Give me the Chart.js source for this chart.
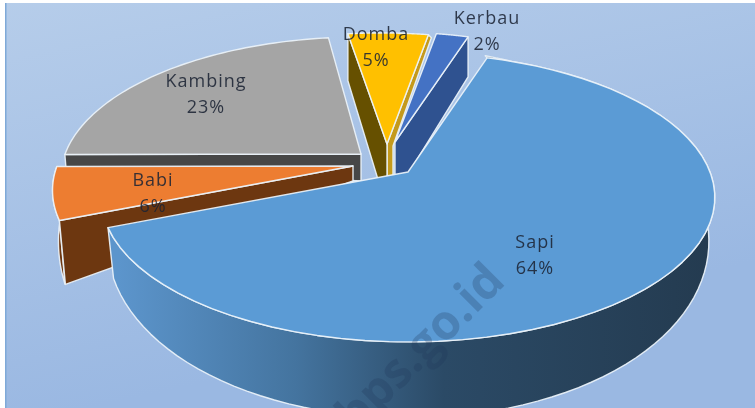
<!DOCTYPE html>
<html>
<head>
<meta charset="utf-8">
<style>html,body{margin:0;padding:0;background:#fff}canvas{display:block;filter:blur(.45px)}</style>
<script src="https://cdn.jsdelivr.net/npm/chart.js@4"></script>
</head>
<body>
<canvas id="c" width="755" height="408"></canvas>
<script>
const categories = ['Sapi', 'Babi', 'Kambing', 'Domba', 'Kerbau'];
const shares = [64, 6, 23, 5, 2];

// perspective of the top surface: disc centre, radii, tilt
const view = { x: 408, y: 172, rx: 302, ry: 140, tilt: 0.176 };

// exploded position and solid faces per slice (depths in px)
// r shrinks the rim, lean drags the rim sideways relative to the apex
const solids = [
  { top: '#5b9bd5', shift: [0, 0], wall: { rim: 36, sv: 40, pull: 6 } },
  { top: '#ed7d31', shift: [-55, -6], r: 0.98, wall: { rim: 39, sv: 66, pull: 6, color: '#6d3710' },
    start: { color: '#6d3710', rim: 64, rimX: 6, apex: 15 } },
  { top: '#a5a5a5', shift: [-47, -18], r: 0.98, start: { color: '#474747', rim: 12, rimX: 1, apex: 27 } },
  { top: '#ffc000', shift: [-21, -28], lean: [-6, 8],
    start: { color: '#665000', rim: 47, rimX: 0, apex: 65 },
    end: { color: '#c49a1c', rim: 3, rimX: 3, apex: 2, apexX: 6, post: 32 } },
  { top: '#4472c4', shift: [-13, -30], lean: [-6, 9], end: { color: '#2f5290', rim: 40, rimX: 0, apex: 53 } },
];
const labelSpots = [[535, 243], [153, 181], [206, 82], [376, 35], [487, 19]];

function project(u, v, s) {
  const k = s.r || 1, lean = s.lean || [0, 0];
  const w = 1 - view.tilt * v * k;
  const onRim = u || v ? 1 : 0;
  return [view.x + view.rx * u * k / w + s.shift[0] + lean[0] * onRim,
          view.y + view.ry * v * k / w + s.shift[1] + lean[1] * onRim];
}
function trace(ctx, pts) {
  ctx.beginPath();
  pts.forEach((p, i) => i ? ctx.lineTo(p[0], p[1]) : ctx.moveTo(p[0], p[1]));
  ctx.closePath();
}
function paint(ctx, pts, fill) {
  trace(ctx, pts);
  ctx.fillStyle = fill;
  ctx.fill();
  ctx.strokeStyle = 'rgba(236,243,250,.92)';
  ctx.lineWidth = 1.4;
  ctx.lineJoin = 'round';
  ctx.stroke();
}
function cutFace(ctx, a, s, f) {
  const rim = project(Math.cos(a), Math.sin(a), s);
  const apex = project(0, 0, s);
  const w = f.apexX || 0;
  const pts = [rim, apex];
  if (f.post) pts.push([apex[0], apex[1] + f.post], [apex[0] + w, apex[1] + f.post]);
  pts.push([apex[0] + w, apex[1] + f.apex], [rim[0] + f.rimX, rim[1] + f.rim]);
  paint(ctx, pts, f.color);
}
function wallFace(ctx, arc, s) {
  const up = [], down = [];
  for (let i = 0; i <= 90; i++) {
    const a = arc.startAngle + (arc.endAngle - arc.startAngle) * i / 90;
    const u = Math.cos(a), v = Math.sin(a);
    const p = project(u, v, s);
    up.push(p);
    down.unshift([p[0] - s.wall.pull * u, p[1] + s.wall.rim + s.wall.sv * v]);
  }
  let fill = s.wall.color;
  if (!fill) {
    fill = ctx.createLinearGradient(118, 0, 710, 0);
    fill.addColorStop(0, '#5c95cc');
    fill.addColorStop(0.3, '#44749f');
    fill.addColorStop(0.55, '#2b4a66');
    fill.addColorStop(1, '#243b50');
  }
  paint(ctx, up.concat(down), fill);
}
function topFace(ctx, arc, s) {
  const pts = [project(0, 0, s)];
  for (let i = 0; i <= 60; i++) {
    const a = arc.startAngle + (arc.endAngle - arc.startAngle) * i / 60;
    pts.push(project(Math.cos(a), Math.sin(a), s));
  }
  paint(ctx, pts, s.top);
}

const backdrop = {
  id: 'backdrop',
  beforeDraw(chart) {
    const ctx = chart.ctx;
    const g = ctx.createLinearGradient(0, 0, 90, 408);
    g.addColorStop(0, '#b6cdea');
    g.addColorStop(1, '#9ab8e2');
    ctx.fillStyle = g;
    ctx.fillRect(5, 3, 750, 405);
    ctx.fillStyle = '#7fa9d8';
    ctx.fillRect(5, 3, 1.5, 405);
  }
};

const pie3d = {
  id: 'pie3d',
  beforeDatasetsDraw(chart) {
    const ctx = chart.ctx, arcs = chart.getDatasetMeta(0).data;
    for (let i = arcs.length - 1; i >= 0; i--) {
      const s = solids[i], arc = arcs[i];
      if (s.wall) wallFace(ctx, arc, s);
      if (s.end) cutFace(ctx, arc.endAngle, s, s.end);
      if (s.start) cutFace(ctx, arc.startAngle, s, s.start);
      topFace(ctx, arc, s);
    }
    ctx.save();
    ctx.font = '18px "Open Sans", sans-serif';
    ctx.letterSpacing = '1px';
    ctx.textAlign = 'center';
    ctx.textBaseline = 'middle';
    ctx.fillStyle = 'rgba(28,36,52,.88)';
    categories.forEach((name, i) => {
      const [x, y] = labelSpots[i];
      ctx.fillText(name, x, y);
      ctx.fillText(shares[i] + '%', x, y + 26);
    });
    ctx.restore();
    // watermark
    ctx.save();
    ctx.translate(507, 283);
    ctx.rotate(-Math.PI / 4);
    ctx.font = 'bold 48px "Open Sans", sans-serif';
    ctx.textAlign = 'right';
    ctx.fillStyle = 'rgba(30,55,90,.26)';
    ctx.fillText('bps.go.id', 0, 0);
    ctx.restore();
    return false;
  }
};

new Chart(document.getElementById('c'), {
  type: 'pie',
  data: { labels: categories, datasets: [{ data: shares }] },
  options: {
    responsive: false,
    animation: false,
    rotation: 17.8,
    plugins: { legend: { display: false }, tooltip: { enabled: false } }
  },
  plugins: [backdrop, pie3d]
});
</script>
</body>
</html>
